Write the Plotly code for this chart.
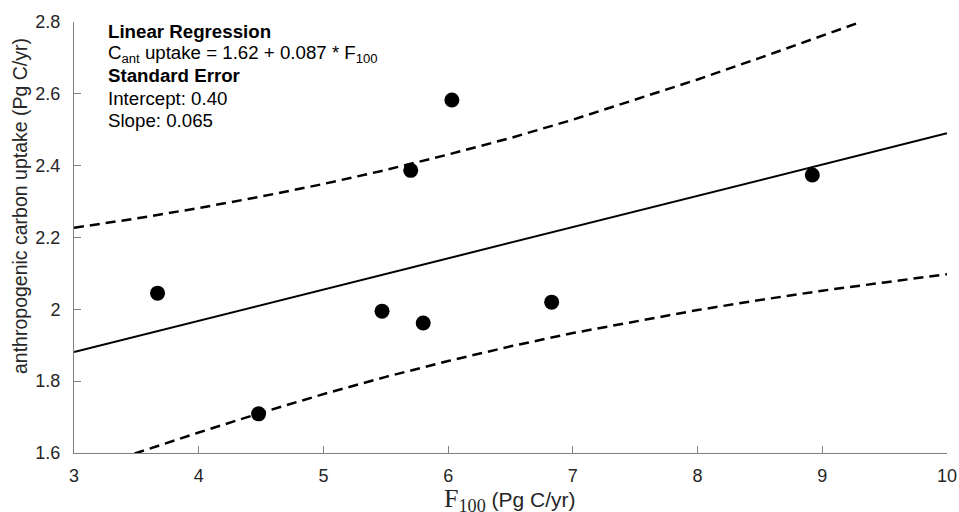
import plotly.graph_objects as go

# Observations
f100 = [3.67, 4.48, 5.47, 5.70, 5.80, 6.03, 6.83, 8.92]
uptake = [2.045, 1.709, 1.995, 2.387, 1.962, 2.583, 2.020, 2.374]

# Regression line (endpoints)
fit_x = [3.0, 10.0]
fit_y = [1.881, 2.490]

# Dashed bounds
band_x = [3.0, 3.5, 4.0, 4.5, 5.0, 5.5, 6.0, 6.5, 7.0, 7.5, 8.0, 8.5, 9.0, 9.29]
upper_y = [2.227, 2.253, 2.282, 2.314, 2.349, 2.388, 2.431, 2.477, 2.528, 2.583, 2.640, 2.700, 2.762, 2.798]
lower_x = [3.0, 3.5, 4.0, 4.5, 5.0, 5.5, 6.0, 6.5, 7.0, 7.5, 8.0, 8.5, 9.0, 9.5, 10.0]
lower_y = [1.540, 1.600, 1.657, 1.712, 1.764, 1.812, 1.856, 1.897, 1.934, 1.967, 1.998, 2.026, 2.052, 2.075, 2.098]

x_ticks = [3, 4, 5, 6, 7, 8, 9, 10]
y_ticks = [1.6, 1.8, 2.0, 2.2, 2.4, 2.6, 2.8]
y_tick_text = ["1.6", "1.8", "2", "2.2", "2.4", "2.6", "2.8"]

fig = go.Figure()
fig.add_trace(go.Scatter(x=band_x, y=upper_y, mode="lines",
                         line=dict(color="black", width=2.5, dash="10px,6px"), showlegend=False))
fig.add_trace(go.Scatter(x=lower_x, y=lower_y, mode="lines",
                         line=dict(color="black", width=2.5, dash="10px,6px"), showlegend=False))
fig.add_trace(go.Scatter(x=fit_x, y=fit_y, mode="lines",
                         line=dict(color="black", width=2), showlegend=False))
fig.add_trace(go.Scatter(x=f100, y=uptake, mode="markers",
                         marker=dict(color="black", size=15), showlegend=False))

W, H = 959, 512
L, R, T, B = 74, 12, 22, 59
fig.update_layout(
    width=W, height=H,
    margin=dict(l=L, r=R, t=T, b=B, autoexpand=False),
    plot_bgcolor="white", paper_bgcolor="white",
    font=dict(family="Liberation Sans, Arial, sans-serif", size=18, color="#262626"),
)
axis_common = dict(showgrid=False, zeroline=False, showline=True, linecolor="#808080",
                   linewidth=1, ticks="inside", ticklen=7, tickcolor="#808080", tickwidth=1,
                   tickfont=dict(size=18, color="#262626"), mirror=False, automargin=False)
fig.update_xaxes(range=[3, 10], tickvals=x_ticks, ticktext=[str(v) for v in x_ticks],
                 ticklabelstandoff=6, **axis_common)
fig.update_yaxes(range=[1.6, 2.8], tickvals=y_ticks, ticktext=y_tick_text,
                 ticklabelstandoff=9, **axis_common)

ph = H - T - B
pw = W - L - R
def py(pix):
    return (H - B - pix) / ph
def px(pix):
    return (pix - L) / pw

lines = [
    ("<b>Linear Regression</b>", 31.5),
    ("C<sub>ant</sub> uptake = 1.62 + 0.087 * F<sub>100</sub>", 54),
    ("<b>Standard Error</b>", 76),
    ("Intercept: 0.40", 98.5),
    ("Slope: 0.065", 120.5),
]
for txt, yp in lines:
    fig.add_annotation(text=txt, xref="paper", yref="paper",
                       x=px(106), y=py(yp), xanchor="left", yanchor="middle",
                       showarrow=False, font=dict(size=18.7, color="black"))

# x-axis title
fig.add_annotation(
    text='<span style="font-family:Liberation Serif, Times New Roman, serif;font-size:26px">F<sub>100</sub></span> '
         '<span style="font-size:21px">(Pg C/yr)</span>',
    xref="paper", yref="paper", x=px(510), y=py(500),
    xanchor="center", yanchor="middle", showarrow=False,
    font=dict(size=21, color="#262626"))
# y-axis title
fig.add_annotation(
    text="anthropogenic carbon uptake (Pg C/yr)",
    xref="paper", yref="paper", x=px(20), y=py(206),
    xanchor="center", yanchor="middle", textangle=-90, showarrow=False,
    font=dict(size=19.5, color="#262626"))

fig.write_html("out.html")
